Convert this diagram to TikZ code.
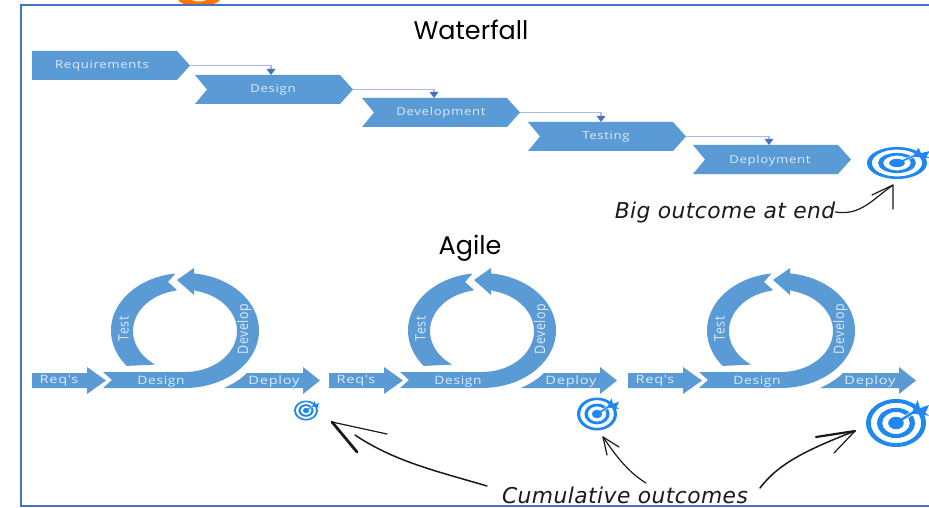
\documentclass[tikz,border=0pt]{standalone}
\usepackage{graphicx}
\usepackage{fontspec}
\setmainfont{Carlito}
\newfontfamily\titlefont{Poppins}
\newfontfamily\boxfont[LetterSpace=5]{Open Sans}
\newfontfamily\handit[LetterSpace=2]{DejaVu Sans}
\definecolor{frameblue}{HTML}{4472C4}
\definecolor{shapeblue}{HTML}{5B9BD5}
\definecolor{paleline}{HTML}{A9BEE6}
\definecolor{boxtext}{HTML}{DDEAF6}
\definecolor{targetblue}{HTML}{1E88F0}
\definecolor{inkblack}{HTML}{1A1A1A}
\tikzset{
  boxfill/.style={fill=shapeblue,draw=none},
  boxlabel/.style={inner sep=0pt,text=boxtext,font=\boxfont\fontsize{11}{12}\selectfont},
  agilelabel/.style={inner sep=0pt,text=boxtext,font=\boxfont\fontsize{11.5}{12}\selectfont},
  titlelabel/.style={inner sep=0pt,text=black,font=\titlefont\fontsize{25.5}{28}\selectfont},
  handlabel/.style={inner sep=0pt,text=inkblack,font=\handit\itshape\fontsize{21.8}{24}\selectfont},
  stepline/.style={draw=paleline,line width=1.4pt},
  steptip/.style={fill=frameblue,draw=none},
  ink/.style={draw=inkblack,line width=1.2pt,line cap=round,line join=round},
  inkthick/.style={draw=inkblack,line width=2.8pt,line cap=round},
}
% \wfbox{name}{x0}{y0}{text}{notch}{text centre x}{text y}
\newcommand{\wfbox}[7]{%
  \fill[boxfill] (#2,#3) -- (#2+145,#3) -- (#2+158,#3+14.5) -- (#2+145,#3+29) -- (#2,#3+29)
     -- (#2+#5,#3+14.5) -- cycle;
  \coordinate (#1e) at (#2+158,#3+14.5);
  \coordinate (#1n) at (#2+79,#3);
  \node[boxlabel] (#1) at (#6,#7) {\scalebox{1.2}[1]{#4}};
}
% \wflink{from}{to}{x offset of the drop}
\newcommand{\wflink}[3]{%
  \draw[stepline] (#1e) -| ([xshift=#3pt,yshift=5pt]#2n);
  \fill[steptip] ([xshift=#3pt-4.5pt,yshift=6pt]#2n) -- ([xshift=#3pt+4.5pt,yshift=6pt]#2n) -- ([xshift=#3pt]#2n) -- cycle;
}
% \target{name}{cx}{cy}{rx}{ry}
\newcommand{\target}[5]{%
  \begin{scope}[shift={(#2,#3)},xscale=#4,yscale=#5]
    \fill[targetblue,even odd rule] (0,0) circle (1) (0,0) circle (.84) (0,0) circle (.63) (0,0) circle (.46);
    \draw[white,line width=#5*0.16pt] (.2,-.15) -- (.85,-.65);
    \fill[targetblue] (0,0) circle (.26);
    \draw[targetblue,line width=#5*0.1pt] (0,0) -- (.72,-.55);
    \fill[targetblue] (.52,-.4) -- (.72,-.95) -- (.8,-.62) -- (1.1,-.75) -- (.98,-.42) -- (1.12,-.3) -- cycle;
    \coordinate (#1) at (0,0);
  \end{scope}%
}
% \cycle{prefix}{xshift}
\newcommand{\cycle}[2]{%
  \begin{scope}[xshift=#2pt]
    \fill[boxfill] (32,373) -- (87,373) -- (87,367) -- (106,380.5) -- (87,394) -- (87,388) -- (32,388) -- cycle;
    \fill[boxfill] plot[domain=142:262,samples=40] ({185+74*cos(\x)},{330.5+57.5*sin(\x)})
       -- (175,274) -- (168,282) -- (177,290)
       -- plot[domain=259:125,samples=40] ({185+52*cos(\x)},{331+41*sin(\x)}) -- cycle;
    \fill[boxfill] (103,372) -- (112,380) -- (103,388) -- (185,388)
       -- plot[domain=90:-83,samples=60] ({185+74*cos(\x)},{330.5+57.5*sin(\x)})
       -- (194,268) -- (177,280) -- (194,295) -- (194,290)
       -- plot[domain=-77:90,samples=60] ({185+52*cos(\x)},{331+41*sin(\x)}) -- cycle;
    \fill[boxfill] (224,388) .. controls (233,384) and (241,379) .. (247,373) -- (303,373) -- (303,367) -- (320,380.5) -- (303,394) -- (303,388) -- cycle;
    \node[agilelabel] (#1req) at (59,381) {\scalebox{1.27}[1]{Req's}};
    \node[agilelabel] (#1des) at (161,382) {\scalebox{1.2}[1]{Design}};
    \node[agilelabel] (#1dep) at (274,382) {\scalebox{1.27}[1]{Deploy}};
    \node[agilelabel,rotate=90] (#1test) at (123.5,329) {\scalebox{1.08}[1.25]{Test}};
    \node[agilelabel,rotate=90] (#1dev) at (244.5,329) {\scalebox{1.08}[1.25]{Develop}};
  \end{scope}%
}
\begin{document}
\begin{tikzpicture}[x=1pt,y=-1pt]
  \useasboundingbox (0,0) rectangle (929,508);
  \fill[white] (0,0) rectangle (929,508);
  \fill[orange!90!red] (178,0) .. controls (182,4) and (184,4.5) .. (190,4.5) -- (208,4.5) .. controls (214,4.5) and (217,3) .. (220,0) -- cycle;
  \fill[white] (192,0) .. controls (195,2) and (203,2) .. (206,0) -- cycle;
  \draw[frameblue,line width=1.6pt] (929,5) -- (21,5) -- (21,506) -- (929,506);

  \node[titlelabel] (wftitle) at (471,30) {Waterfall};
  \node[titlelabel] (agtitle) at (470,248) {Agile};

  \wfbox{req}{32}{51}{Requirements}{0}{102}{66}
  \wfbox{des}{195}{75}{Design}{12}{273}{89.5}
  \wfbox{dev}{362}{98}{Development}{12}{441}{113}
  \wfbox{tst}{528}{122}{Testing}{12}{606}{137}
  \wfbox{dpl}{693}{145}{Deployment}{12}{770}{161}
  \wflink{req}{des}{-3}
  \wflink{des}{dev}{-7}
  \wflink{dev}{tst}{-6}
  \wflink{tst}{dpl}{-3}

  \cycle{a}{0}
  \cycle{b}{297}
  \cycle{c}{596}

  \target{t0}{897}{163}{30}{16}
  \target{t1}{306}{410.5}{12}{10}
  \target{t2}{597}{414}{20}{16.5}
  \target{t3}{896}{423}{30}{24}

  \node[handlabel] (big) at (725,212) {Big outcome at end};
  \node[handlabel] (cum) at (625,495) {Cumulative outcomes};

  \coordinate (bigtip) at (893,185);
  \draw[ink] (big.east) .. controls (860,216) and (872,200) .. (bigtip);
  \draw[ink] (872,195) -- (bigtip) -- (893,209);

  \coordinate (tipa) at (332,422);
  \draw[ink,line width=1.5pt] (487,486) .. controls (440,472) and (395,462) .. (355,435);
  \draw[inkthick] (tipa) -- (357,452);
  \draw[ink] (tipa) -- (387,434);

  \coordinate (tipb) at (603,437);
  \draw[ink] (646,483) .. controls (628,472) and (616,456) .. (tipb);
  \draw[ink] (tipb) -- (619,447);
  \draw[ink] (tipb) -- (607,455);

  \coordinate (tipc) at (855,431);
  \draw[ink,line width=1.5pt] (760,488) .. controls (778,464) and (806,450) .. (tipc);
  \draw[inkthick,line width=2.2pt] (816,437) -- (tipc);
  \draw[ink] (tipc) -- (834,453);
\end{tikzpicture}
\end{document}
